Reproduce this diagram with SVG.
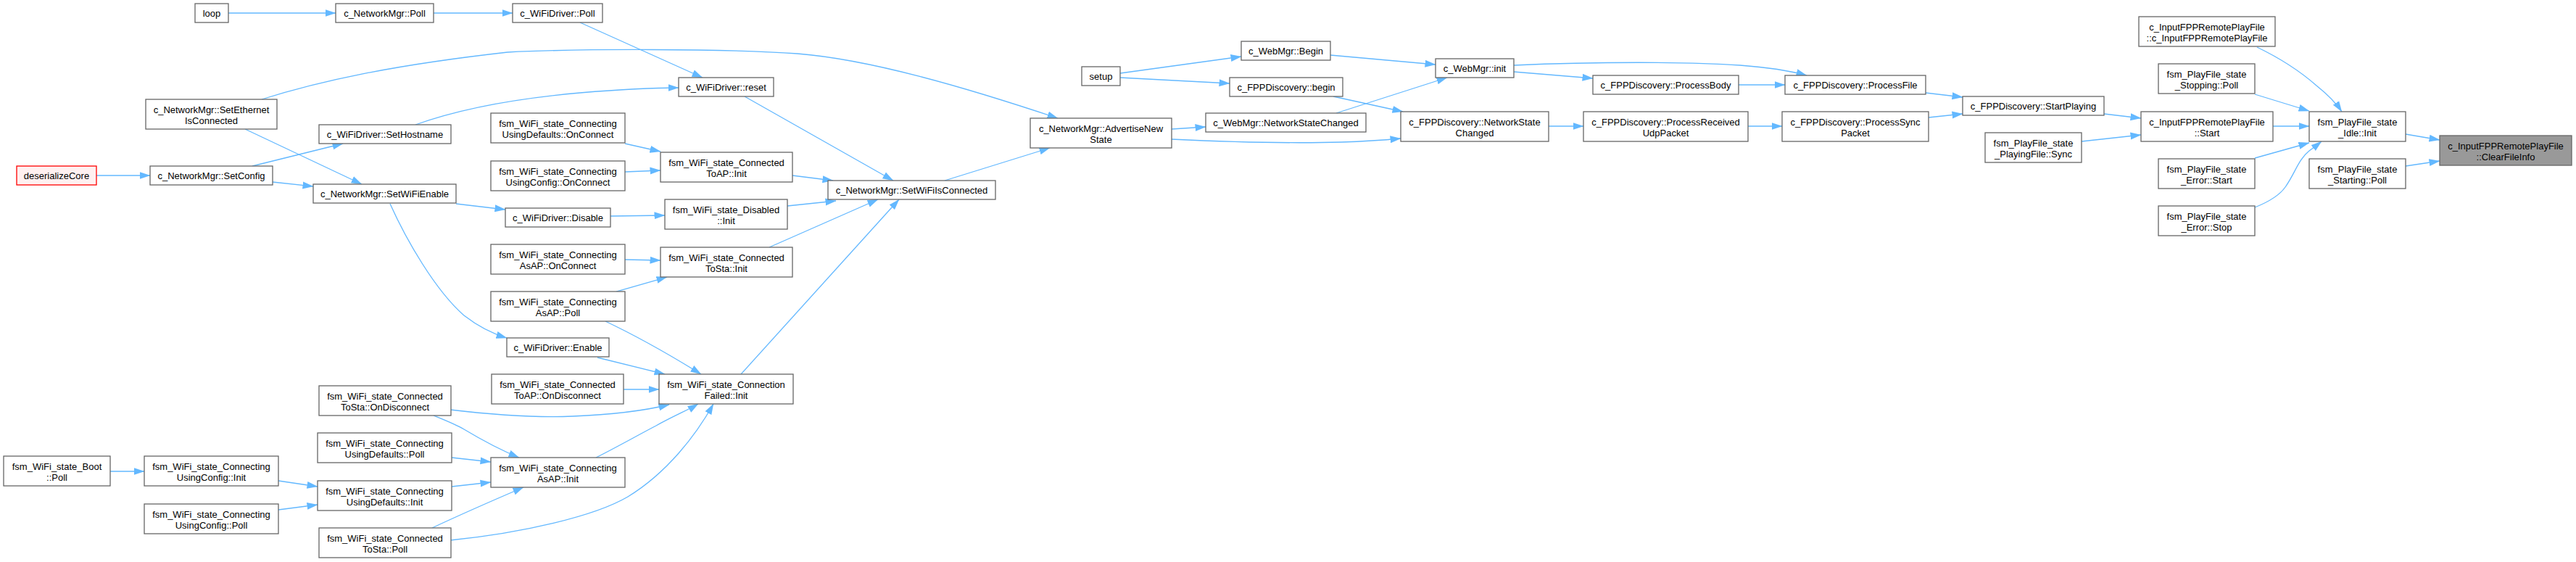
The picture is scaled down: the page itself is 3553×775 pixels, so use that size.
<svg xmlns="http://www.w3.org/2000/svg" width="3553" height="775" viewBox="0 0 3553 775">
<defs>
<marker id="arr" markerUnits="userSpaceOnUse" markerWidth="15" markerHeight="11" viewBox="0 0 15 10" refX="14.5" refY="5" orient="auto">
<path d="M0,0 L15,5 L0,10 z" fill="#63b8ff"/>
</marker>
<style>
.n rect{fill:#ffffff;stroke:#666666;stroke-width:1.3}
.n text{font-family:"Liberation Sans",Arial,Helvetica,sans-serif;font-size:13px;text-anchor:middle;fill:#000000}
#edges path{fill:none;stroke:#63b8ff;stroke-width:1.3;marker-end:url(#arr)}
#n5 rect{fill:#fff0f0;stroke:#ff0000}
#n38 rect{fill:#999999;stroke:#666666}
</style>
</defs>
<rect x="0" y="0" width="3553" height="775" fill="#ffffff"/>
<g id="edges">
<path d="M315,18 L463,18"/>
<path d="M598,18 L707,18"/>
<path d="M800,31 L969,107"/>
<path d="M361,137 C440,112 540,90 700,72 C800,67 1000,67 1100,74 C1200,82 1330,120 1459,163"/>
<path d="M133,242 L207,242"/>
<path d="M348,229 L473,198"/>
<path d="M376,251 L432,257"/>
<path d="M338,178 L499,254"/>
<path d="M573,172 C640,148 720,135 800,128 C860,123 900,121 936,121"/>
<path d="M1027,133 L1232,249"/>
<path d="M862,198 L911,209"/>
<path d="M862,237 L911,235"/>
<path d="M1093,242 L1149,249"/>
<path d="M629,281 L697,289"/>
<path d="M842,298 L917,297"/>
<path d="M1086,284 L1153,277"/>
<path d="M862,358 L911,359"/>
<path d="M1061,341 L1211,275"/>
<path d="M1022,516 L1240,275"/>
<path d="M850,402 L920,382"/>
<path d="M835,443 C875,462 925,490 967,516"/>
<path d="M538,281 C560,330 600,400 640,435 C662,452 682,461 699,466"/>
<path d="M824,493 L917,516"/>
<path d="M860,537 L909,537"/>
<path d="M621,565 C680,572 740,576 790,574 C840,572 890,566 923,558"/>
<path d="M598,573 C615,580 628,585 640,592 C660,604 684,618 716,631"/>
<path d="M623,631 L677,637"/>
<path d="M623,671 L677,665"/>
<path d="M596,728 C630,712 680,690 722,672"/>
<path d="M621,745 C720,735 820,712 866,685 C920,652 960,600 984,557"/>
<path d="M822,631 C850,617 880,600 905,587 C930,573 950,565 963,557"/>
<path d="M152,650 L199,650"/>
<path d="M384,663 L438,671"/>
<path d="M384,703 L438,696"/>
<path d="M1303,249 L1448,204"/>
<path d="M1616,178 L1663,175"/>
<path d="M1616,192 C1700,196 1780,198 1850,196 C1880,195 1910,193 1932,191"/>
<path d="M1545,101 L1712,78"/>
<path d="M1545,107 L1696,115"/>
<path d="M1835,76 L1980,89"/>
<path d="M1839,133 L1935,154"/>
<path d="M1843,156 L1996,107"/>
<path d="M2088,99 L2197,108"/>
<path d="M2088,90 C2200,85 2330,85 2400,90 C2440,93 2470,98 2492,104"/>
<path d="M2136,174 L2184,174"/>
<path d="M2398,117 L2462,117"/>
<path d="M2411,174 L2458,174"/>
<path d="M2656,128 L2707,134"/>
<path d="M2660,162 L2707,157"/>
<path d="M2902,157 L2953,163"/>
<path d="M2871,195 L2953,186"/>
<path d="M3113,65 C3140,78 3170,96 3195,118 C3210,130 3222,142 3230,154"/>
<path d="M3110,130 L3185,153"/>
<path d="M3135,174 L3185,174"/>
<path d="M3110,218 L3185,197"/>
<path d="M3110,286 C3130,278 3145,268 3152,258 C3165,240 3170,220 3185,208 C3192,203 3197,199 3202,195"/>
<path d="M3318,185 L3365,193"/>
<path d="M3318,229 L3365,222"/>
</g>
<g id="n1" class="n"><rect x="269" y="5" width="46" height="26"/><text x="292" y="22.5">loop</text></g>
<g id="n2" class="n"><rect x="463" y="5" width="135" height="26"/><text x="530.5" y="22.5">c_NetworkMgr::Poll</text></g>
<g id="n3" class="n"><rect x="707" y="5" width="124" height="26"/><text x="769" y="22.5">c_WiFiDriver::Poll</text></g>
<g id="n4" class="n"><rect x="201" y="137" width="181" height="41"/><text x="291.5" y="156">c_NetworkMgr::SetEthernet</text><text x="291.5" y="171">IsConnected</text></g>
<g id="n5" class="n"><rect x="23" y="229" width="110" height="26"/><text x="78" y="246.5">deserializeCore</text></g>
<g id="n6" class="n"><rect x="207" y="229" width="169" height="26"/><text x="291.5" y="246.5">c_NetworkMgr::SetConfig</text></g>
<g id="n7" class="n"><rect x="440" y="172" width="182" height="26"/><text x="531" y="189.5">c_WiFiDriver::SetHostname</text></g>
<g id="n8" class="n"><rect x="432" y="254" width="197" height="26"/><text x="530.5" y="271.5">c_NetworkMgr::SetWiFiEnable</text></g>
<g id="n9" class="n"><rect x="936" y="107" width="131" height="26"/><text x="1001.5" y="124.5">c_WiFiDriver::reset</text></g>
<g id="n10" class="n"><rect x="677" y="156" width="185" height="41"/><text x="769.5" y="175">fsm_WiFi_state_Connecting</text><text x="769.5" y="190">UsingDefaults::OnConnect</text></g>
<g id="n11" class="n"><rect x="677" y="222" width="185" height="41"/><text x="769.5" y="241">fsm_WiFi_state_Connecting</text><text x="769.5" y="256">UsingConfig::OnConnect</text></g>
<g id="n12" class="n"><rect x="911" y="210" width="182" height="41"/><text x="1002" y="229">fsm_WiFi_state_Connected</text><text x="1002" y="244">ToAP::Init</text></g>
<g id="n13" class="n"><rect x="697" y="287" width="145" height="26"/><text x="769.5" y="304.5">c_WiFiDriver::Disable</text></g>
<g id="n14" class="n"><rect x="917" y="275" width="169" height="41"/><text x="1001.5" y="294">fsm_WiFi_state_Disabled</text><text x="1001.5" y="309">::Init</text></g>
<g id="n15" class="n"><rect x="677" y="337" width="185" height="41"/><text x="769.5" y="356">fsm_WiFi_state_Connecting</text><text x="769.5" y="371">AsAP::OnConnect</text></g>
<g id="n16" class="n"><rect x="911" y="341" width="182" height="41"/><text x="1002" y="360">fsm_WiFi_state_Connected</text><text x="1002" y="375">ToSta::Init</text></g>
<g id="n17" class="n"><rect x="1142" y="249" width="231" height="26"/><text x="1257.5" y="266.5">c_NetworkMgr::SetWiFiIsConnected</text></g>
<g id="n18" class="n"><rect x="1492" y="92" width="53" height="26"/><text x="1518.5" y="109.5">setup</text></g>
<g id="n19" class="n"><rect x="1421" y="163" width="195" height="41"/><text x="1518.5" y="182">c_NetworkMgr::AdvertiseNew</text><text x="1518.5" y="197">State</text></g>
<g id="n20" class="n"><rect x="1712" y="57" width="123" height="26"/><text x="1773.5" y="74.5">c_WebMgr::Begin</text></g>
<g id="n21" class="n"><rect x="1696" y="107" width="156" height="26"/><text x="1774" y="124.5">c_FPPDiscovery::begin</text></g>
<g id="n22" class="n"><rect x="1663" y="156" width="221" height="26"/><text x="1773.5" y="173.5">c_WebMgr::NetworkStateChanged</text></g>
<g id="n23" class="n"><rect x="1980" y="81" width="108" height="26"/><text x="2034" y="98.5">c_WebMgr::init</text></g>
<g id="n24" class="n"><rect x="2197" y="104" width="201" height="26"/><text x="2297.5" y="121.5">c_FPPDiscovery::ProcessBody</text></g>
<g id="n25" class="n"><rect x="1932" y="154" width="204" height="41"/><text x="2034" y="173">c_FPPDiscovery::NetworkState</text><text x="2034" y="188">Changed</text></g>
<g id="n26" class="n"><rect x="2184" y="154" width="227" height="41"/><text x="2297.5" y="173">c_FPPDiscovery::ProcessReceived</text><text x="2297.5" y="188">UdpPacket</text></g>
<g id="n27" class="n"><rect x="2462" y="104" width="194" height="26"/><text x="2559" y="121.5">c_FPPDiscovery::ProcessFile</text></g>
<g id="n28" class="n"><rect x="2458" y="154" width="202" height="41"/><text x="2559" y="173">c_FPPDiscovery::ProcessSync</text><text x="2559" y="188">Packet</text></g>
<g id="n29" class="n"><rect x="2707" y="133" width="195" height="26"/><text x="2804.5" y="150.5">c_FPPDiscovery::StartPlaying</text></g>
<g id="n30" class="n"><rect x="2738" y="183" width="133" height="41"/><text x="2804.5" y="202">fsm_PlayFile_state</text><text x="2804.5" y="217">_PlayingFile::Sync</text></g>
<g id="n31" class="n"><rect x="2950" y="23" width="188" height="41"/><text x="3044" y="42">c_InputFPPRemotePlayFile</text><text x="3044" y="57">::c_InputFPPRemotePlayFile</text></g>
<g id="n32" class="n"><rect x="2977" y="88" width="133" height="41"/><text x="3043.5" y="107">fsm_PlayFile_state</text><text x="3043.5" y="122">_Stopping::Poll</text></g>
<g id="n33" class="n"><rect x="2953" y="154" width="182" height="41"/><text x="3044" y="173">c_InputFPPRemotePlayFile</text><text x="3044" y="188">::Start</text></g>
<g id="n34" class="n"><rect x="2977" y="219" width="133" height="41"/><text x="3043.5" y="238">fsm_PlayFile_state</text><text x="3043.5" y="253">_Error::Start</text></g>
<g id="n35" class="n"><rect x="2977" y="284" width="133" height="41"/><text x="3043.5" y="303">fsm_PlayFile_state</text><text x="3043.5" y="318">_Error::Stop</text></g>
<g id="n36" class="n"><rect x="3185" y="154" width="133" height="41"/><text x="3251.5" y="173">fsm_PlayFile_state</text><text x="3251.5" y="188">_Idle::Init</text></g>
<g id="n37" class="n"><rect x="3185" y="219" width="133" height="41"/><text x="3251.5" y="238">fsm_PlayFile_state</text><text x="3251.5" y="253">_Starting::Poll</text></g>
<g id="n38" class="n"><rect x="3365" y="187" width="182" height="41"/><text x="3456" y="206">c_InputFPPRemotePlayFile</text><text x="3456" y="221">::ClearFileInfo</text></g>
<g id="n39" class="n"><rect x="677" y="402" width="185" height="41"/><text x="769.5" y="421">fsm_WiFi_state_Connecting</text><text x="769.5" y="436">AsAP::Poll</text></g>
<g id="n40" class="n"><rect x="699" y="466" width="141" height="26"/><text x="769.5" y="483.5">c_WiFiDriver::Enable</text></g>
<g id="n41" class="n"><rect x="678" y="516" width="182" height="41"/><text x="769" y="535">fsm_WiFi_state_Connected</text><text x="769" y="550">ToAP::OnDisconnect</text></g>
<g id="n42" class="n"><rect x="909" y="516" width="185" height="41"/><text x="1001.5" y="535">fsm_WiFi_state_Connection</text><text x="1001.5" y="550">Failed::Init</text></g>
<g id="n43" class="n"><rect x="440" y="532" width="182" height="41"/><text x="531" y="551">fsm_WiFi_state_Connected</text><text x="531" y="566">ToSta::OnDisconnect</text></g>
<g id="n44" class="n"><rect x="438" y="597" width="185" height="41"/><text x="530.5" y="616">fsm_WiFi_state_Connecting</text><text x="530.5" y="631">UsingDefaults::Poll</text></g>
<g id="n45" class="n"><rect x="677" y="631" width="185" height="41"/><text x="769.5" y="650">fsm_WiFi_state_Connecting</text><text x="769.5" y="665">AsAP::Init</text></g>
<g id="n46" class="n"><rect x="438" y="663" width="185" height="41"/><text x="530.5" y="682">fsm_WiFi_state_Connecting</text><text x="530.5" y="697">UsingDefaults::Init</text></g>
<g id="n47" class="n"><rect x="440" y="728" width="182" height="41"/><text x="531" y="747">fsm_WiFi_state_Connected</text><text x="531" y="762">ToSta::Poll</text></g>
<g id="n48" class="n"><rect x="5" y="629" width="147" height="41"/><text x="78.5" y="648">fsm_WiFi_state_Boot</text><text x="78.5" y="663">::Poll</text></g>
<g id="n49" class="n"><rect x="199" y="629" width="185" height="41"/><text x="291.5" y="648">fsm_WiFi_state_Connecting</text><text x="291.5" y="663">UsingConfig::Init</text></g>
<g id="n50" class="n"><rect x="199" y="695" width="185" height="41"/><text x="291.5" y="714">fsm_WiFi_state_Connecting</text><text x="291.5" y="729">UsingConfig::Poll</text></g>
</svg>
